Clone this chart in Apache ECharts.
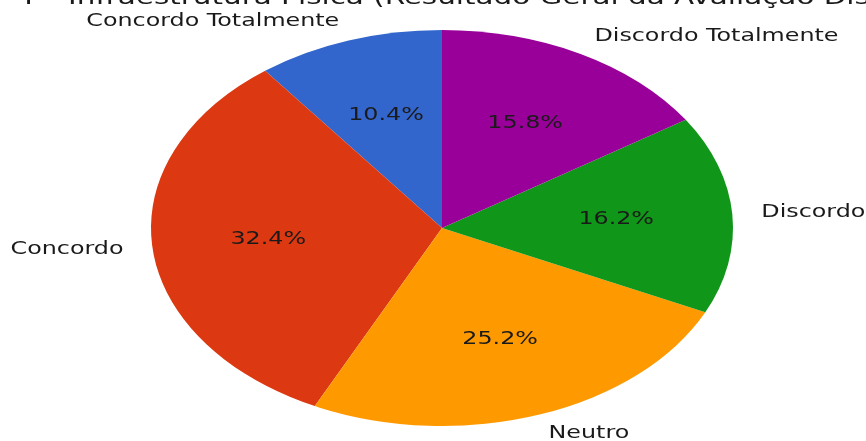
<!DOCTYPE html>
<html>
<head>
<meta charset="utf-8">
<script src="https://cdn.jsdelivr.net/npm/echarts@6/dist/echarts.min.js"></script>
<style>
  html, body { margin: 0; padding: 0; background: #fff; }
  #main { width: 866px; height: 441px; }
</style>
</head>
<body>
<div id="main"></div>
<script>
// dados do gráfico
const categories = ['Concordo Totalmente', 'Concordo', 'Neutro', 'Discordo', 'Discordo Totalmente']
const percentValues = [10.4, 32.4, 25.2, 16.2, 15.8]
const sliceColors = ['#3366cc', '#dc3912', '#ff9900', '#109618', '#990099']
const chartTitle = '4 – Infraestrutura Física (Resultado Geral da Avaliação Discente)'

// layout (a imagem original foi esticada na horizontal)
const cx = 442, cy = 228
const ry = 198, rx = 291
const stretch = 1.4
const fontFamily = '"DejaVu Sans", sans-serif'

const total = percentValues.reduce((a, b) => a + b, 0)

function renderItem (params, api) {
  const i = params.dataIndex
  const v = api.value(0)
  let before = 0
  for (let j = 0; j < i; j++) before += percentValues[j]
  const a0 = 2 * Math.PI * before / total
  const a1 = 2 * Math.PI * (before + v) / total
  // ângulo "matemático" (anti-horário a partir de 90°)
  const mid = Math.PI / 2 + (a0 + a1) / 2
  const c = Math.cos(mid), s = Math.sin(mid)

  return {
    type: 'group',
    children: [
      {
        type: 'sector',
        x: cx,
        y: cy,
        scaleX: rx / ry,
        shape: { cx: 0, cy: 0, r0: 0, r: ry, startAngle: -Math.PI / 2 - a1, endAngle: -Math.PI / 2 - a0, clockwise: true },
        style: { fill: sliceColors[i] }
      },
      {
        type: 'text',
        x: cx + 0.6 * rx * c,
        y: cy - 0.6 * ry * s,
        scaleX: stretch,
        style: {
          text: v.toFixed(1) + '%', x: 0, y: 0,
          fill: '#1a1a1a', fontSize: 17, fontFamily: fontFamily,
          align: 'center', verticalAlign: 'middle'
        }
      },
      {
        type: 'text',
        x: cx + 1.1 * rx * c,
        y: cy - 1.1 * ry * s,
        scaleX: stretch,
        style: {
          text: categories[i], x: 0, y: 0,
          fill: '#1a1a1a', fontSize: 17, fontFamily: fontFamily,
          align: c > 0 ? 'left' : 'right', verticalAlign: 'middle'
        }
      }
    ]
  }
}

const chart = echarts.init(document.getElementById('main'))
chart.setOption({
  animation: false,
  graphic: [
    {
      type: 'text',
      x: 16,
      y: -1,
      scaleX: stretch,
      style: {
        text: chartTitle, x: 0, y: 0,
        fill: '#1a1a1a', fontSize: 21, fontFamily: fontFamily,
        align: 'left', verticalAlign: 'middle'
      }
    }
  ],
  series: [
    {
      type: 'custom',
      coordinateSystem: 'none',
      silent: true,
      renderItem: renderItem,
      data: percentValues.map((v, i) => ({ name: categories[i], value: v }))
    }
  ]
})
</script>
</body>
</html>
